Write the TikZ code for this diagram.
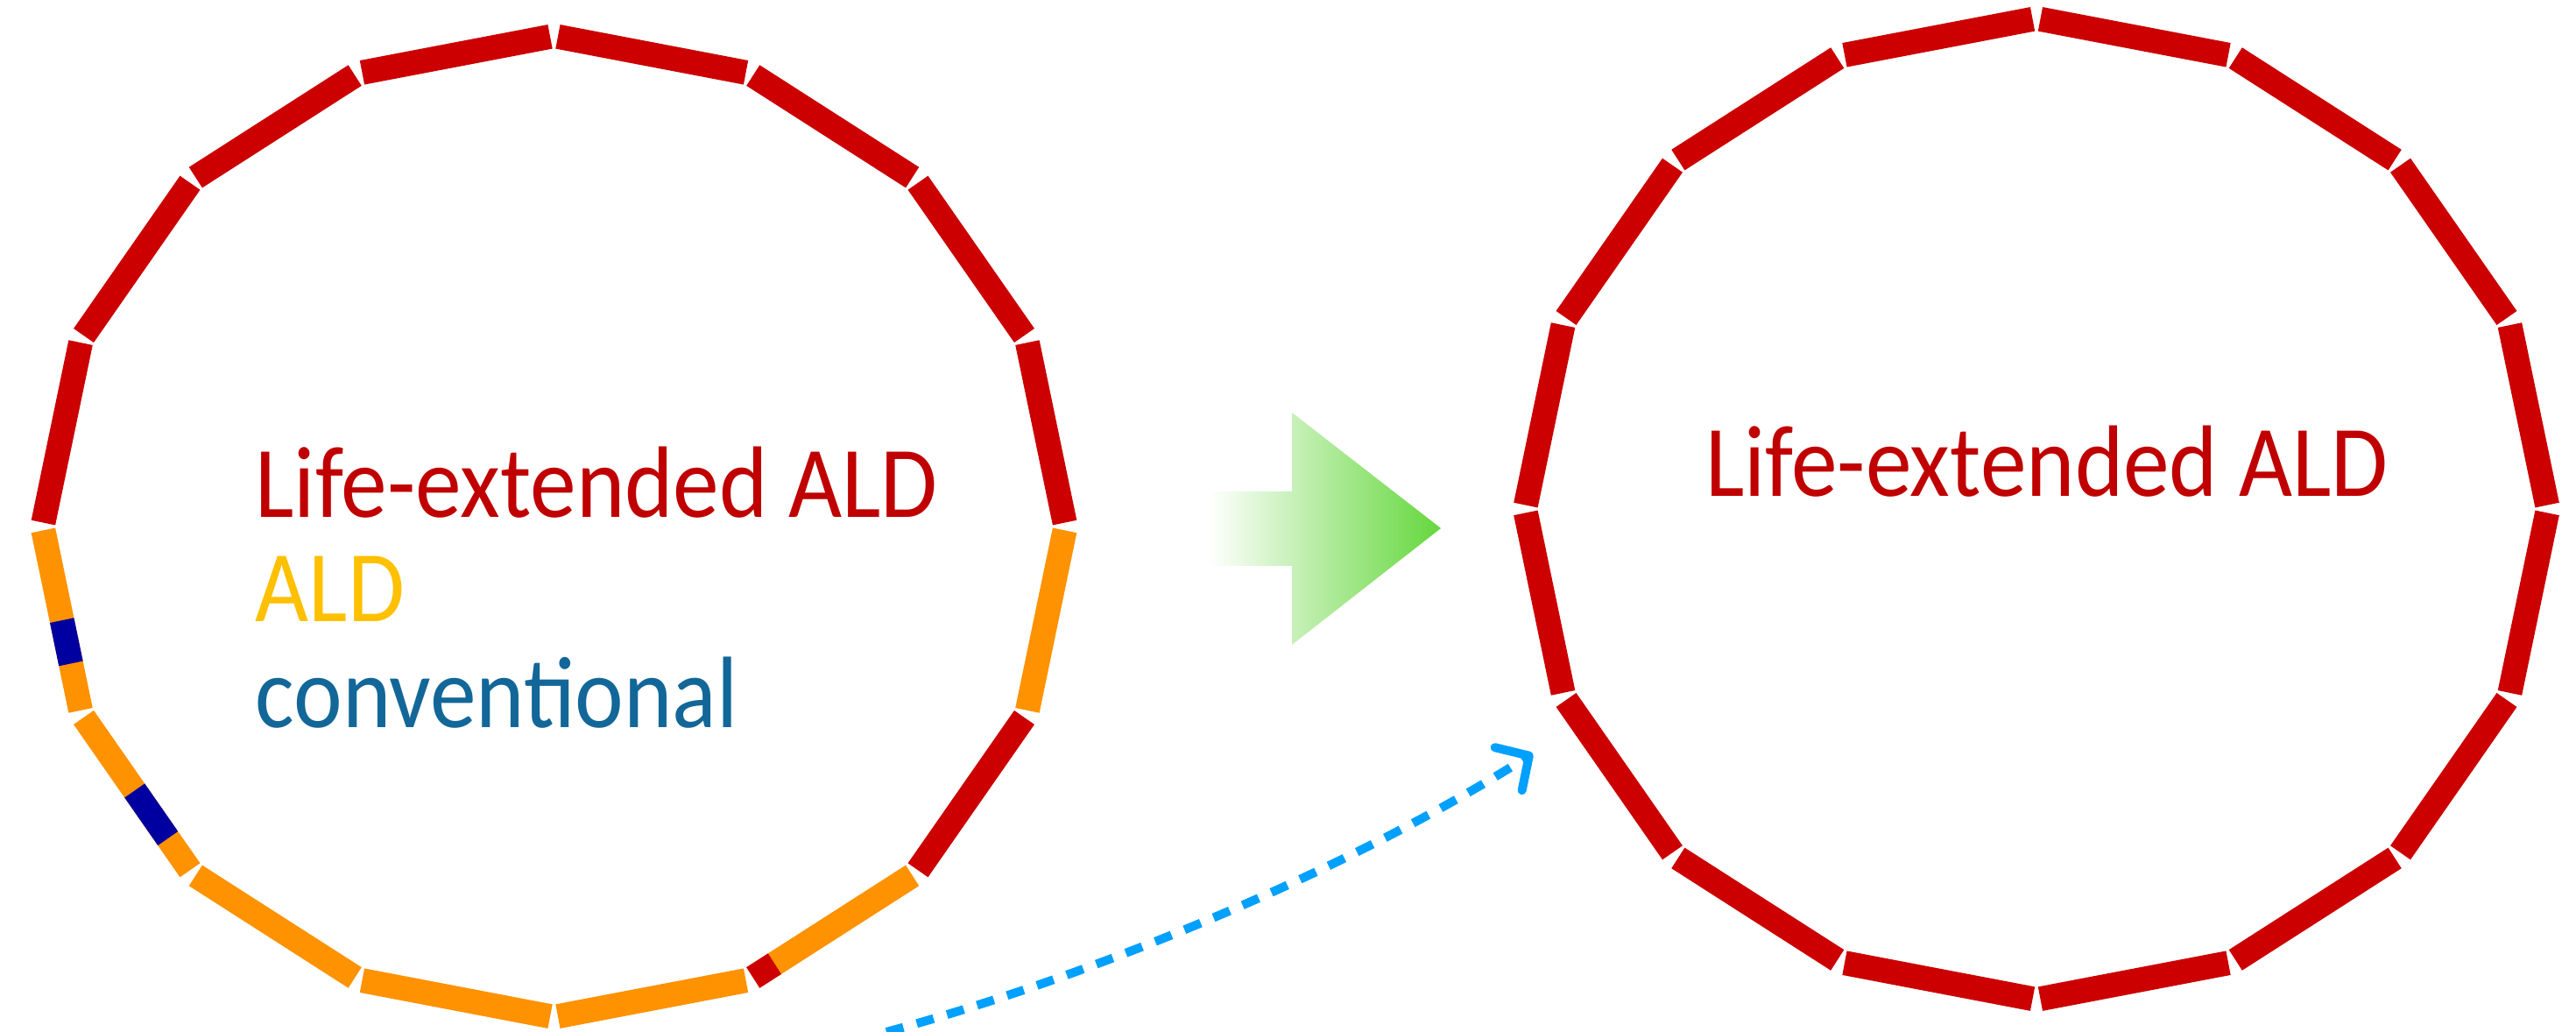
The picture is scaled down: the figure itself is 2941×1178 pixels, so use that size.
\documentclass[tikz,border=0pt]{standalone}
\usepackage{fontspec}
\setmainfont{Carlito}
\usetikzlibrary{calc,arrows.meta}

\definecolor{segred}{RGB}{204,0,0}
\definecolor{segorange}{RGB}{255,146,0}
\definecolor{segblue}{RGB}{0,0,160}
\definecolor{txtred}{RGB}{192,0,0}
\definecolor{txtgold}{RGB}{255,192,0}
\definecolor{txtblue}{RGB}{18,103,152}
\definecolor{dotblue}{RGB}{0,160,255}
\definecolor{arrowgreen}{RGB}{100,215,60}

\newcommand{\tallertext}[1]{\scalebox{1}[1.1]{#1}}

\begin{document}
\begin{tikzpicture}[x=0.1mm,y=-0.1mm,
  seg/.style={line width=2.8mm, line cap=butt},
  gapped/.style={seg, shorten <=0.45mm, shorten >=0.45mm},
  legendtext/.style={inner sep=0pt, font=\fontsize{30pt}{36pt}\selectfont}]

\useasboundingbox (0,0) rectangle (2941,1178);
\fill[white] (0,0) rectangle (2941,1178);

% polygon corners of the two rings, clockwise from the top
\foreach \k in {0,...,16}{
  \coordinate (L\k) at ({632.5+584*cos(90-22.5*\k)},{601-560*sin(90-22.5*\k)});
  \coordinate (R\k) at ({2325+584*cos(90-22.5*\k)},{581-560*sin(90-22.5*\k)});
}

% left ring: mixed segments
\foreach \k/\c in {0/segred,1/segred,2/segred,3/segred,4/segorange,5/segred,
                   6/segorange,7/segorange,8/segorange,9/segorange,10/segorange,
                   11/segorange,12/segred,13/segred,14/segred,15/segred}{
  \pgfmathtruncatemacro\n{\k+1}
  \draw[gapped,\c] (L\k) -- (L\n);
}
% partial replacements inside segments
\draw[seg,segred,shorten >=0.45mm] ($(L6)!0.85!(L7)$) -- (L7);
\draw[seg,segblue] ($(L10)!0.22!(L11)$) -- ($(L10)!0.52!(L11)$);
\draw[seg,segblue] ($(L11)!0.27!(L12)$) -- ($(L11)!0.50!(L12)$);

% right ring: all segments renewed
\foreach \k in {0,...,15}{
  \pgfmathtruncatemacro\n{\k+1}
  \draw[gapped,segred] (R\k) -- (R\n);
}

% legend of the left ring
\node[legendtext, anchor=base west, text=txtred]  (leg1) at (291,591) {\tallertext{Life-extended ALD}};
\node[legendtext, anchor=base west, text=txtgold] (leg2) at (291,710) {\tallertext{ALD}};
\node[legendtext, anchor=base west, text=txtblue] (leg3) at (291,831) {\tallertext{conventional}};

% caption of the right ring
\node[legendtext, anchor=base east, text=txtred] (title) at (2727,567) {\tallertext{Life-extended ALD}};

% transition arrow
\shade[left color=white, right color=arrowgreen]
  (1380,561) -- (1475,561) -- (1475,471) -- (1645,603) -- (1475,736)
  -- (1475,646) -- (1380,646) -- cycle;

% dashed link between the rings
\coordinate (dotstart) at (1012,1178);
\coordinate (dc1) at (1245,1115);
\coordinate (dc2) at (1537,995);
\coordinate (dotend) at (1750,860);
\draw[dotblue, line width=1mm, dash pattern=on 2mm off 1.6mm,
      -{Straight Barb[length=2.8mm, width=5.8mm, line cap=round, line join=round]}]
  (dotstart) .. controls (dc1) and (dc2) .. (dotend);

\end{tikzpicture}
\end{document}
